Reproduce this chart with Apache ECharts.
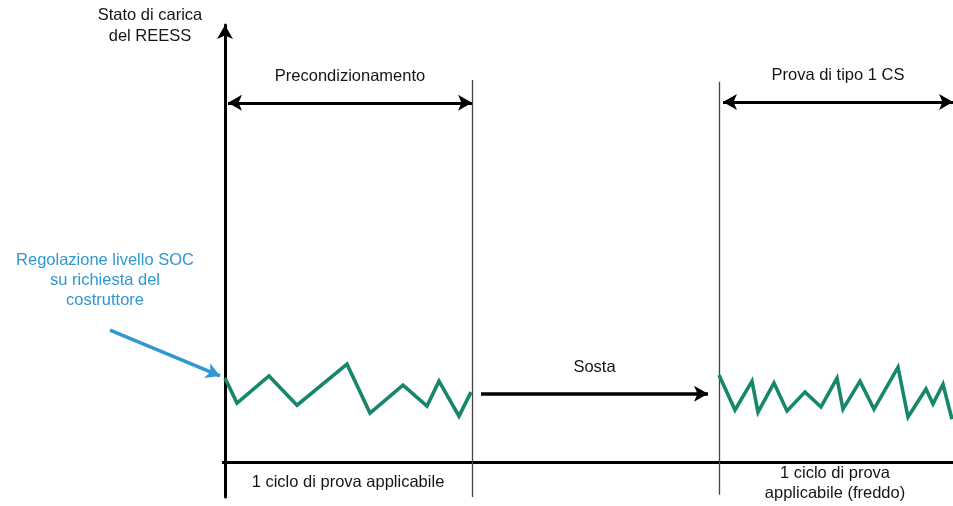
<!DOCTYPE html>
<html><head><meta charset="utf-8">
<script src="https://cdn.jsdelivr.net/npm/echarts@6/dist/echarts.min.js"></script>
<style>html,body{margin:0;padding:0;background:#fff}#c{width:953px;height:506px}</style>
</head><body><div id="c"></div>
<script>
// Time (arbitrary units) and SOC (%) of the two driving-cycle traces
const precondTime = [0, 12, 44, 72, 122, 145, 178, 202, 214, 234, 246];
const precondSoc  = [19.2, 13.5, 19.7, 13.0, 22.4, 11.2, 17.6, 12.8, 18.5, 10.5, 16.0];
const testTime = [494, 510, 527, 533, 549, 562, 580, 596, 612, 618, 635, 649, 673, 683, 701, 708, 718, 727];
const testSoc  = [19.9, 11.9, 18.5, 11.4, 18.1, 11.7, 16.0, 12.6, 19.2, 12.1, 18.5, 12.1, 21.7, 10.3, 16.7, 13.3, 17.8, 9.8];
// Phase boundaries (time units)
const phaseBounds = [247, 494];
const timeEnd = 728;
// Texts
const yAxisName = 'Stato di carica\ndel REESS';
const phaseLabels = ['Precondizionamento', 'Sosta', 'Prova di tipo 1 CS'];
const cycleLabels = ['1 ciclo di prova applicabile', '1 ciclo di prova\napplicabile (freddo)'];
const socNote = 'Regolazione livello SOC\nsu richiesta del\ncostruttore';

const FONT = '"Liberation Sans", Arial, sans-serif';
const FS = 16.5;
const GREEN = '#17876c';
const BLUE = '#2f97d2';
const ARROW = [12, 14];

const chart = echarts.init(document.getElementById('c'), null, {renderer: 'canvas'});
const zip = (a, b) => a.map((v, i) => [v, b[i]]);
const solid = (w, c) => ({color: c || '#000', width: w, type: 'solid'});
const txt = (s, color) => ({show: true, formatter: s, color: color || '#151515', fontSize: FS, fontFamily: FONT, lineHeight: 20});

chart.setOption({
  animation: false,
  backgroundColor: '#fff',
  grid: {left: 0, right: 0, top: 25, bottom: 9, containLabel: false},
  xAxis: {
    type: 'value', min: -225, max: timeEnd,
    axisLine: {show: false}, axisTick: {show: false}, axisLabel: {show: false}, splitLine: {show: false}
  },
  yAxis: {
    type: 'value', min: -8, max: 100,
    axisLine: {show: true, onZero: true, symbol: ['none', 'arrow'], symbolSize: ARROW, lineStyle: solid(3)},
    axisTick: {show: false}, axisLabel: {show: false}, splitLine: {show: false},
    name: yAxisName, nameLocation: 'end', nameGap: -1,
    nameTextStyle: {color: '#151515', fontSize: FS, fontFamily: FONT, lineHeight: 21, align: 'center', verticalAlign: 'middle', padding: [0, 150, 0, 0]}
  },
  series: [
    {
      type: 'line', name: 'precond', data: zip(precondTime, precondSoc), symbol: 'none',
      lineStyle: {color: GREEN, width: 3.6, join: 'miter'}, itemStyle: {color: GREEN}, z: 5,
      markLine: {
        silent: true, symbol: ['none', 'none'], animation: false,
        data: [
          // time axis
          [{coord: [-3, 0], lineStyle: solid(3)}, {coord: [timeEnd, 0]}],
          // phase dividers
          [{coord: [phaseBounds[0], 87.4], lineStyle: solid(1.3, '#444')}, {coord: [phaseBounds[0], -8]}],
          [{coord: [phaseBounds[1], 87], lineStyle: solid(1.3, '#444')}, {coord: [phaseBounds[1], -7.5]}],
          // Precondizionamento double arrow
          [{coord: [3, 82.2], symbol: 'arrow', symbolSize: ARROW, lineStyle: solid(3),
            label: Object.assign(txt(phaseLabels[0]), {position: 'middle', distance: 16})},
           {coord: [phaseBounds[0], 82.2], symbol: 'arrow', symbolSize: ARROW}],
          // Sosta arrow
          [{coord: [256, 15.6], symbol: 'none', lineStyle: solid(3.5),
            label: Object.assign(txt(phaseLabels[1]), {position: 'middle', distance: 16})},
           {coord: [483, 15.6], symbol: 'arrow', symbolSize: ARROW}],
          // Prova di tipo 1 CS double arrow
          [{coord: [phaseBounds[1] + 4, 82.4], symbol: 'arrow', symbolSize: ARROW, lineStyle: solid(3),
            label: Object.assign(txt(phaseLabels[2]), {position: 'middle', distance: 16})},
           {coord: [timeEnd, 82.4], symbol: 'arrow', symbolSize: ARROW}],
          // SOC note arrow
          [{coord: [-115, 30.2], symbol: 'none', lineStyle: solid(3.5, BLUE)},
           {coord: [-5, 19.7], symbol: 'arrow', symbolSize: ARROW}]
        ]
      },
      markPoint: {
        silent: true, animation: false, symbol: 'circle', symbolSize: 1, itemStyle: {color: 'rgba(0,0,0,0)'},
        data: [
          {coord: [123, -4.6], label: Object.assign(txt(cycleLabels[0]), {position: 'inside'})},
          {coord: [610, -4.8], label: Object.assign(txt(cycleLabels[1]), {position: 'inside'})},
          {coord: [-120, 41.6], label: Object.assign(txt(socNote, BLUE), {position: 'inside'})}
        ]
      }
    },
    {
      type: 'line', name: 'test', data: zip(testTime, testSoc), symbol: 'none',
      lineStyle: {color: GREEN, width: 3.6, join: 'miter'}, itemStyle: {color: GREEN}, z: 5
    }
  ]
});
</script></body></html>
